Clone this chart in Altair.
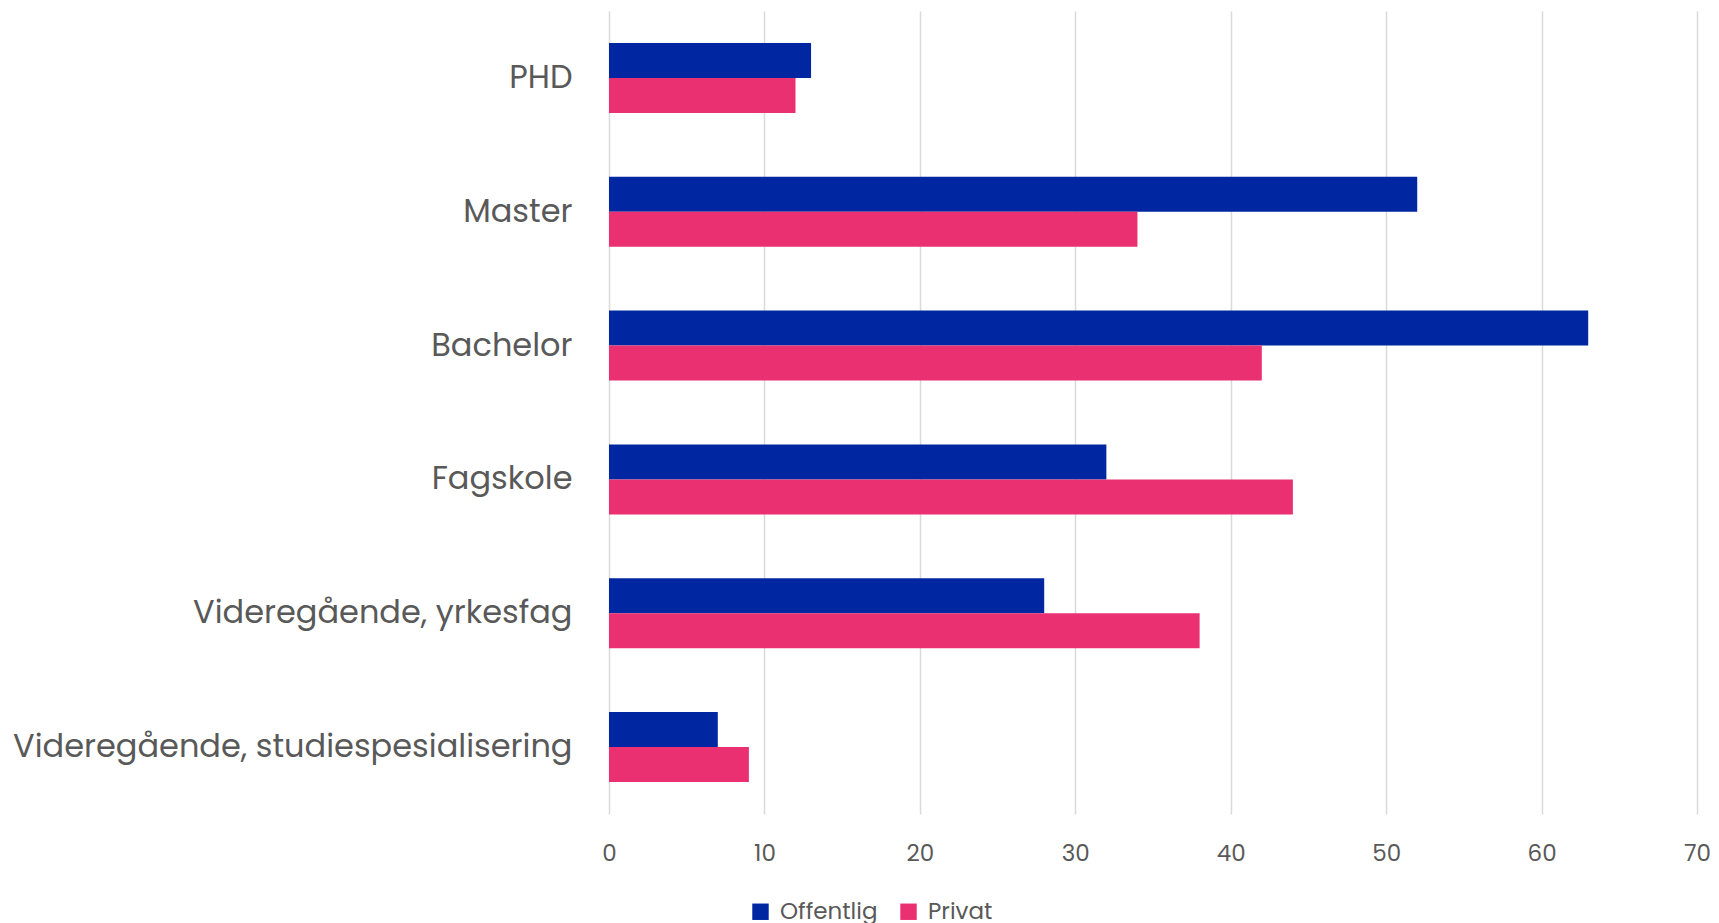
import altair as alt
import pandas as pd

categories = ["PHD", "Master", "Bachelor", "Fagskole", "Videregående, yrkesfag",
              "Videregående, studiespesialisering"]
offentlig = [13, 52, 63, 32, 28, 7]
privat = [12, 34, 42, 44, 38, 9]
series = ["Offentlig", "Privat"]
colors = ["#0026A1", "#EA3070"]

rows = []
for c, o, p in zip(categories, offentlig, privat):
    rows.append({"kategori": c, "serie": "Offentlig", "verdi": o})
    rows.append({"kategori": c, "serie": "Privat", "verdi": p})
df = pd.DataFrame(rows)

FONT = "Poppins, Open Sans, sans-serif"

chart = alt.Chart(df).mark_bar().encode(
    y=alt.Y("kategori:N", sort=categories, title=None,
            scale=alt.Scale(paddingInner=0.477, paddingOuter=0.2385),
            axis=alt.Axis(labelFontSize=32, labelColor="#595959", labelFont=FONT,
                          labelPadding=37, ticks=False, domain=False, labelLimit=700,
                          grid=False)),
    yOffset=alt.YOffset("serie:N", sort=series, scale=alt.Scale(paddingInner=0, paddingOuter=0)),
    x=alt.X("verdi:Q", title=None,
            scale=alt.Scale(domain=[0, 70], nice=False),
            axis=alt.Axis(values=[0, 10, 20, 30, 40, 50, 60, 70], labelFontSize=23,
                          labelColor="#595959", labelFont=FONT, labelPadding=28,
                          labelFlush=False,
                          ticks=False, domain=False, gridColor="#D9D9D9", gridWidth=1.5)),
    color=alt.Color("serie:N", sort=series, title=None,
                    scale=alt.Scale(domain=series, range=colors),
                    legend=alt.Legend(orient="none", legendX=140, legendY=889,
                                      direction="horizontal", symbolType="square",
                                      symbolSize=270, symbolStrokeWidth=0,
                                      labelFontSize=23, labelColor="#595959",
                                      labelFont=FONT, columnPadding=19, labelOffset=8)),
).properties(
    width=1088, height=803,
    autosize=alt.AutoSizeParams(type="none"),
    padding={"left": 601, "top": 3, "right": 14, "bottom": 130},
).configure_view(stroke=None)

chart.save("out.html", embed_options={"renderer": "svg", "actions": False})
